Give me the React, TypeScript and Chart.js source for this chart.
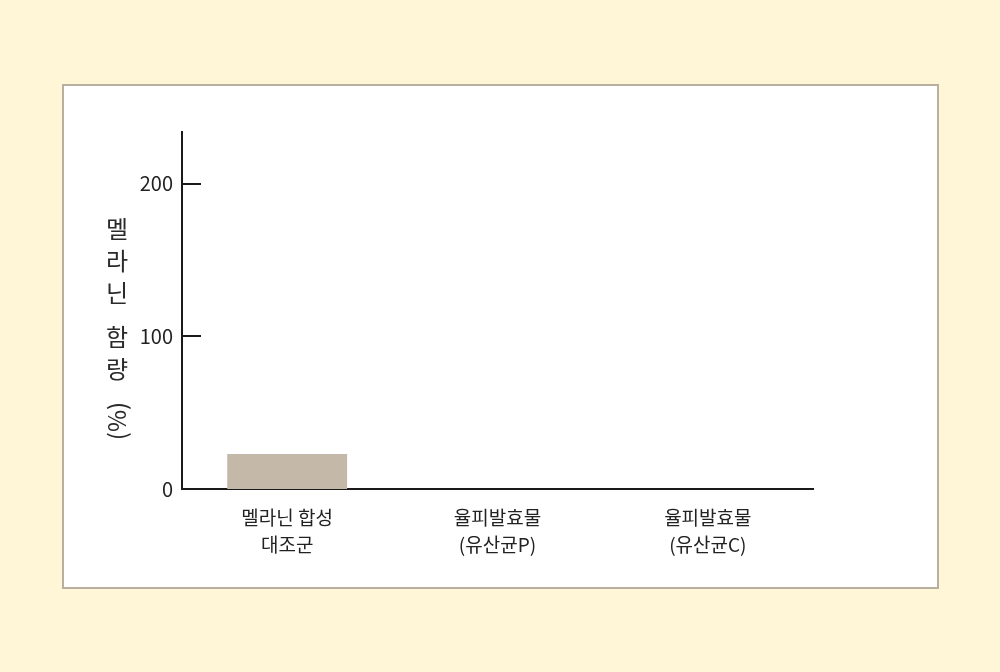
import React, { useEffect, useRef } from 'react'
import { Chart, ChartConfiguration, registerables } from 'chart.js'

const categories = [
  ['멜라닌 합성', '대조군'],
  ['율피발효물', '(유산균P)'],
  ['율피발효물', '(유산균C)'],
]
const melaninValues = [23, 0, 0]
const yTicks = [0, 100, 200]
const yTitleChars = ['멜', '라', '닌', '', '함', '량']
const yTitleUnit = '(%)'

const FONT = '"Noto Sans CJK KR", "Noto Sans", sans-serif'

const axisExtras = {
  id: 'axisExtras',
  afterDraw(chart: any) {
    const { ctx, scales } = chart
    const y = scales.y
    const x0 = scales.x.left
    ctx.save()
    // inward tick marks
    ctx.strokeStyle = '#1a1a1a'
    ctx.lineWidth = 2
    yTicks.slice(1).forEach((v) => {
      const py = Math.round(y.getPixelForValue(v))
      ctx.beginPath()
      ctx.moveTo(x0, py)
      ctx.lineTo(x0 + 19, py)
      ctx.stroke()
    })
    // stacked vertical title
    ctx.fillStyle = '#2a2a2a'
    ctx.font = `24px ${FONT}`
    ctx.textAlign = 'center'
    ctx.textBaseline = 'middle'
    const cx = 53
    let cy = 143
    yTitleChars.forEach((ch) => {
      if (ch) ctx.fillText(ch, cx, cy)
      cy += ch ? 32 : 12
    })
    ctx.translate(cx, cy + 20)
    ctx.rotate(-Math.PI / 2)
    ctx.fillText(yTitleUnit, 0, 0)
    ctx.restore()
  },
}

const BarChart = () => {
  const chartRef = useRef<any>()

  useEffect(() => {
    Chart.register(...registerables)

    const chartConfig: ChartConfiguration = {
      type: 'bar',
      data: {
        labels: categories,
        datasets: [
          {
            label: '멜라닌 함량',
            data: melaninValues,
            backgroundColor: '#c4b8a8',
            barPercentage: 0.57,
            categoryPercentage: 1,
          },
        ],
      },
      options: {
        animation: false,
        responsive: true,
        maintainAspectRatio: false,
        layout: { padding: { left: 0, right: 124, top: 46, bottom: 0 } },
        scales: {
          x: {
            grid: { display: false },
            border: { display: true, color: '#1a1a1a', width: 2 },
            ticks: {
              color: '#222',
              font: { family: FONT, size: 19, lineHeight: 1.38 },
              padding: 8,
              maxRotation: 0,
            },
            afterFit: (scale: any) => {
              scale.height = 98
            },
          },
          y: {
            min: 0,
            max: 234,
            grid: { display: false, drawTicks: false },
            border: { display: true, color: '#1a1a1a', width: 2 },
            afterBuildTicks: (scale: any) => {
              scale.ticks = yTicks.map((v) => ({ value: v }))
            },
            ticks: {
              color: '#222',
              font: { family: FONT, size: 20 },
              padding: 9,
            },
            afterFit: (scale: any) => {
              scale.width = 118
            },
          },
        },
        plugins: {
          legend: { display: false },
          tooltip: { enabled: false },
        },
      },
      plugins: [axisExtras],
    }

    const chart = new Chart(chartRef.current, chartConfig)

    return () => {
      chart.destroy()
    }
  }, [])

  return <canvas ref={chartRef}></canvas>
}

const App = () => (
  <div
    style={{
      position: 'fixed',
      left: 0,
      top: 0,
      width: 1000,
      height: 672,
      background: '#fef6d6',
    }}
  >
    <div
      style={{
        position: 'absolute',
        left: 62,
        top: 84,
        width: 873,
        height: 501,
        border: '2px solid #b9af9e',
        background: '#fff',
      }}
    >
      <div style={{ position: 'relative', width: 873, height: 501 }}>
        <BarChart />
      </div>
    </div>
  </div>
)

export default App
